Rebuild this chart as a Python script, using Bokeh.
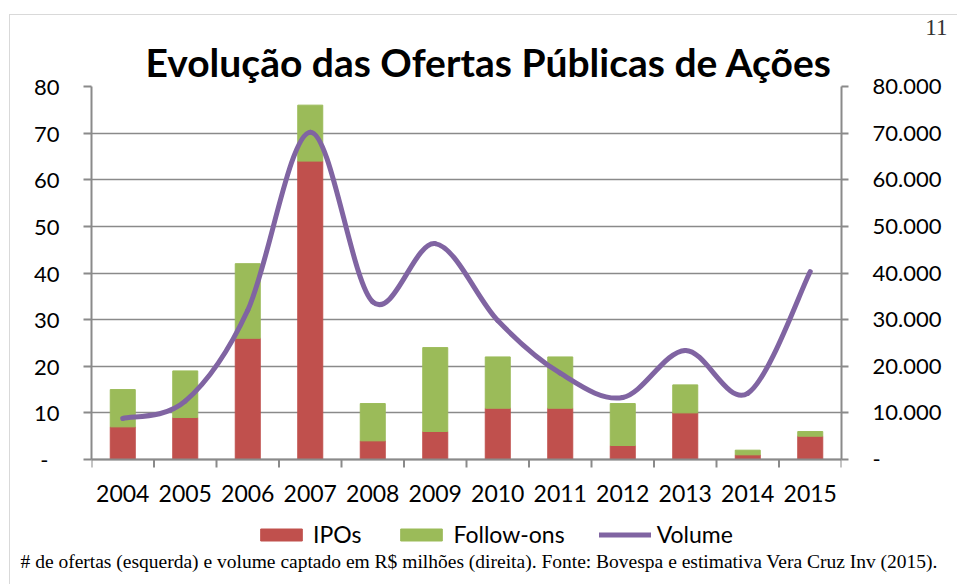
from bokeh.plotting import figure
from bokeh.models import (ColumnDataSource, Range1d, LinearAxis, FixedTicker, Title,
                          Legend, LegendItem, Span)
from bokeh.core.properties import value
from bokeh.embed import file_html
from bokeh.resources import INLINE

years = ["2004", "2005", "2006", "2007", "2008", "2009", "2010", "2011", "2012", "2013", "2014", "2015"]
ipos = [7, 9, 26, 64, 4, 6, 11, 11, 3, 10, 1, 5]
follow_ons = [8, 10, 16, 12, 8, 18, 11, 11, 9, 6, 1, 1]
volume = [8800, 12500, 32000, 70200, 33800, 46300, 29800, 18500, 13300, 23400, 14200, 40300]
left_ticks = [0, 10, 20, 30, 40, 50, 60, 70, 80]
right_ticks = [0, 10000, 20000, 30000, 40000, 50000, 60000, 70000, 80000]
caption = "# de ofertas (esquerda) e volume captado em R$ milhões (direita). Fonte: Bovespa e estimativa Vera Cruz Inv (2015)."

FONT = "Lato"
SERIF = "Liberation Serif"
GRAY = "#8a8a8a"
RED = "#C0504D"
GREEN = "#9BBB59"
PURPLE = "#8064A2"

# layout (pixels): the value axis spans 373 px; the frame continues 89 px below zero
AXIS_PX, BELOW_PX = 373, 89
LMAX, RMAX = left_ticks[-1], right_ticks[-1]
u = LMAX / AXIS_PX          # left-axis units per pixel
ur = RMAX / AXIS_PX         # right-axis units per pixel

p = figure(frame_width=750, frame_height=AXIS_PX + BELOW_PX, output_backend="svg",
           toolbar_location=None, x_axis_location=None,
           x_range=Range1d(-0.5, len(years) - 0.5), y_range=Range1d(-BELOW_PX * u, LMAX),
           min_border_left=81, min_border_right=116, min_border_top=71, min_border_bottom=36)
p.styles = {"margin-left": "9px", "margin-top": "14px",
            "border-left": "1px solid #d9d9d9", "border-top": "1px solid #d9d9d9"}
p.outline_line_color = None
p.background_fill_color = "white"
p.border_fill_color = "white"
p.xgrid.grid_line_color = None

# bars
xs = list(range(len(years)))
src = ColumnDataSource(dict(x=xs, ipos=ipos, follow=follow_ons, year=years))
bars = p.vbar_stack(["ipos", "follow"], x="x", width=0.4, color=[RED, GREEN], source=src)

# volume smooth curve (bezier segments through the data points)
p.extra_y_ranges = {"vol": Range1d(-BELOW_PX * ur, RMAX)}
n = len(volume)
x0, y0, x1, y1, cx0, cy0, cx1, cy1 = ([] for _ in range(8))
for i in range(n - 1):
    ip = i - 1 if i > 0 else i
    inn = i + 2 if i + 2 < n else i + 1
    x0.append(i); y0.append(volume[i])
    x1.append(i + 1); y1.append(volume[i + 1])
    cx0.append(i + (i + 1 - ip) / 6); cy0.append(volume[i] + (volume[i + 1] - volume[ip]) / 6)
    cx1.append(i + 1 - (inn - i) / 6); cy1.append(volume[i + 1] - (volume[inn] - volume[i]) / 6)
bsrc = ColumnDataSource(dict(x0=x0, y0=y0, x1=x1, y1=y1, cx0=cx0, cy0=cy0, cx1=cx1, cy1=cy1))
curve = p.bezier("x0", "y0", "x1", "y1", "cx0", "cy0", "cx1", "cy1", source=bsrc, y_range_name="vol",
                 line_color=PURPLE, line_width=5, line_cap="round")

# category axis drawn at zero: line, boundary ticks, year labels
p.add_layout(Span(location=0, dimension="width", line_color=GRAY, line_width=2))
bounds = [i - 0.5 for i in range(len(years) + 1)]
p.segment(x0=bounds, y0=0, x1=bounds, y1=-8 * u, line_color=GRAY, line_width=2)
p.text(x="x", y=0, text="year", source=src, y_offset=34, text_align="center",
       text_baseline="middle", text_font=value(FONT), text_font_size="23px",
       text_font_style="normal", text_color="black")

# left axis
ya = p.yaxis[0]
ya.bounds = (0, LMAX)
ya.ticker = FixedTicker(ticks=left_ticks)
ya.major_label_overrides = {0: "-\u2002"}
ya.major_tick_in = 0
ya.major_tick_out = 8
ya.minor_tick_line_color = None
ya.major_tick_line_color = GRAY
ya.major_tick_line_width = 2
ya.axis_line_color = GRAY
ya.axis_line_width = 2
ya.major_label_standoff = 24
ya.major_label_text_font = FONT
ya.major_label_text_font_size = "22px"
ya.major_label_text_color = "black"
p.ygrid.ticker = FixedTicker(ticks=left_ticks)
p.ygrid.grid_line_color = GRAY
p.ygrid.grid_line_width = 1.6

# right axis
ra = LinearAxis(y_range_name="vol", ticker=FixedTicker(ticks=right_ticks), bounds=(0, RMAX))
ra.major_label_overrides = {v: ("-" if v == 0 else f"{v:,}".replace(",", ".")) for v in right_ticks}
ra.major_tick_in = 0
ra.major_tick_out = 7
ra.minor_tick_line_color = None
ra.major_tick_line_color = GRAY
ra.major_tick_line_width = 2
ra.axis_line_color = GRAY
ra.axis_line_width = 2
ra.major_label_standoff = 24
ra.major_label_text_font = FONT
ra.major_label_text_font_size = "22px"
ra.major_label_text_color = "black"
p.add_layout(ra, "right")

# legend inside the lower strip of the frame
lg = Legend(items=[LegendItem(label="IPOs", renderers=[bars[0]]),
                   LegendItem(label="Follow-ons", renderers=[bars[1]]),
                   LegendItem(label="Volume", renderers=[curve])])
lg.orientation = "horizontal"
lg.location = (164, 0)
lg.border_line_color = None
lg.background_fill_alpha = 0
lg.padding = 0
lg.margin = 0
lg.spacing = 34
lg.glyph_width = 52
lg.glyph_height = 15
lg.label_standoff = 6
lg.label_text_font = FONT
lg.label_text_font_size = "23px"
lg.label_text_color = "black"
p.add_layout(lg, "center")

# caption under the frame
p.add_layout(Title(text=caption, align="left", offset=-71, standoff=1, text_font=SERIF,
                   text_font_size="19.5px", text_font_style="normal", text_color="black"), "below")

# main title and page number above
p.add_layout(Title(text="Evolução das Ofertas Públicas de Ações", align="left", offset=54,
                   standoff=4, text_font=FONT, text_font_size="39px", text_font_style="bold",
                   text_color="black"), "above")
p.add_layout(Title(text="11", align="right", offset=-106, standoff=0, text_font=SERIF,
                   text_font_size="23px", text_font_style="normal", text_color="#333333"), "above")

open("out.html", "w").write(file_html(p, INLINE))
